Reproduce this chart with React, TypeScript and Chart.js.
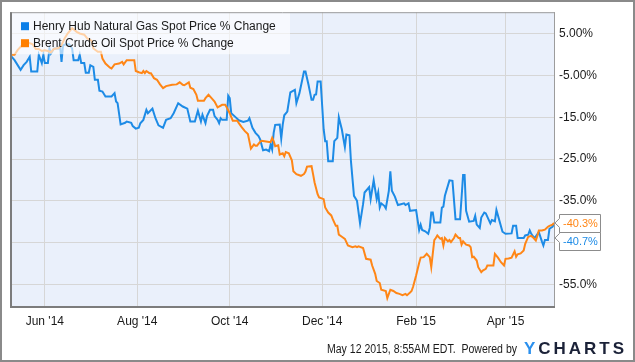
import { useEffect, useRef } from "react";
import { Chart, registerables } from "chart.js";

Chart.register(...registerables);

// ---- Data (x = days since 1 Jun 2014) ----
const seriesNames = [
  "Henry Hub Natural Gas Spot Price % Change",
  "Brent Crude Oil Spot Price % Change",
];

const gasDays = [
  -23, -20, -16, -14, -12, -10, -9, -5, -4, -2,
  -1, 0, 2, 3, 4, 6, 9, 10, 11, 12,
  14, 16, 18, 19, 22, 23, 24, 26, 27, 29,
  30, 32, 33, 35, 36, 38, 40, 44, 46, 47,
  48, 50, 53, 54, 57, 58, 60, 62, 63, 65,
  67, 68, 71, 73, 75, 78, 80, 83, 85, 88,
  91, 94, 96, 99, 101, 103, 104, 106, 107, 109,
  111, 112, 114, 115, 116, 117, 120, 121, 122, 123,
  126, 128, 131, 134, 135, 137, 139, 141, 142, 144,
  146, 148, 149, 150, 151, 152, 155, 156, 157, 158,
  160, 162, 165, 166, 168, 171, 172, 174, 176, 177,
  178, 179, 180, 182, 184, 185, 186, 187, 190, 191,
  193, 194, 196, 198, 199, 201, 202, 204, 206, 208,
  210, 211, 214, 215, 217, 219, 220, 221, 222, 224,
  225, 227, 228, 229, 231, 233, 235, 237, 238, 240,
  241, 245, 247, 248, 249, 251, 253, 254, 255, 256,
  257, 261, 262, 263, 264, 267, 269, 271, 274, 275,
  276, 277, 278, 280, 283, 284, 285, 287, 288, 290,
  291, 294, 295, 297, 298, 300, 302, 304, 308, 309,
  311, 312, 316, 317, 319, 320, 321, 323, 324, 326,
  328, 329, 330, 332, 333, 335, 336,
];

const gasChange = [
  0, -1.3, -3.6, -2.5, -1.7, -0.5, -4.0, -4.0, 0, -2,
  0, -2, -2, 1.5, 0.3, 1.5, 1.5, 2.3, -1.7, 2.3,
  2.5, 2.5, 1.5, -1.3, -1.3, 0, -2, -2, -4.3, -4.3,
  -2.5, -2.9, -6.0, -6.0, -8.6, -8.8, -10, -10, -9.2, -11.2,
  -11.6, -16.7, -16.3, -16, -16.3, -17.1, -17.7, -17.5, -16.4, -15.6,
  -13.2, -14, -12.9, -15.2, -16.9, -17.5, -15.6, -15.2, -14, -11.6,
  -12.4, -12.9, -16, -16, -13.4, -16, -14.4, -16.4, -14.7, -13.2,
  -13.2, -14.7, -15.6, -16.4, -15.2, -15.6, -15.6, -9.8, -10.4, -14,
  -15, -15.7, -16.1, -15.8, -15.2, -17.5, -18.7, -19.5, -20.2, -22.9,
  -22.7, -23.1, -21.5, -22.7, -18.7, -16.8, -16.7, -20.1, -16.7, -14.5,
  -13.6, -9.0, -8.4, -11.6, -9.2, -4.0, -4.0, -7.2, -10.8, -10.8,
  -9.6, -9.5, -6.4, -6.4, -17.9, -20.7, -20.7, -25.5, -25.5, -20.7,
  -19.9, -15, -17.9, -22.1, -19.1, -19.3, -25.5, -33.8, -35, -40.4,
  -35.8, -33, -31.7, -34.6, -30.1, -34.6, -33, -36.6, -35.6, -36.2,
  -36.8, -32.6, -27.9, -32.6, -34, -36, -35.8, -35.6, -36, -35.6,
  -37.4, -37.2, -42, -40.7, -42, -42.3, -42.9, -41.5, -37.8, -37.8,
  -40.2, -40.2, -36.6, -36.4, -33.8, -30.1, -30.2, -39.4, -39.4, -34.2,
  -28.8, -28.8, -37.4, -40, -39.8, -38.6, -40.7, -41.5, -39, -37.8,
  -38, -40.4, -39.6, -39.9, -37.2, -39.8, -42.4, -42.9, -42.8, -41,
  -41, -43.9, -43.9, -43.3, -43.1, -42.1, -42.9, -43.9, -43.5, -42.5,
  -44.7, -45.7, -44.4, -44.4, -41.7, -41.2, -40.7,
];

const brentDays = [
  -23, -20, -18, -15, -11, -8, -6, -4, -2, 0,
  2, 4, 6, 9, 11, 13, 15, 18, 21, 23,
  26, 28, 31, 32, 35, 37, 38, 40, 43, 44,
  46, 49, 51, 52, 54, 56, 59, 60, 62, 64,
  65, 66, 67, 69, 70, 72, 74, 76, 78, 80,
  84, 87, 89, 91, 92, 95, 96, 98, 100, 101,
  105, 106, 108, 110, 112, 114, 117, 119, 120, 122,
  124, 127, 128, 130, 132, 134, 136, 138, 139, 140,
  142, 143, 145, 148, 149, 150, 151, 152, 154, 155,
  157, 158, 159, 161, 163, 164, 166, 169, 171, 172,
  173, 176, 177, 178, 180, 181, 184, 185, 187, 189,
  190, 192, 193, 194, 196, 198, 200, 203, 205, 206,
  207, 210, 212, 215, 216, 218, 219, 221, 222, 225,
  226, 228, 230, 232, 234, 236, 238, 239, 241, 242,
  243, 245, 247, 248, 250, 252, 254, 255, 257, 258,
  259, 261, 262, 263, 264, 266, 267, 268, 270, 271,
  273, 274, 275, 276, 278, 280, 281, 282, 283, 285,
  286, 288, 289, 291, 292, 296, 297, 299, 301, 303,
  304, 306, 308, 310, 311, 312, 314, 316, 317, 319,
  321, 322, 324, 325, 326, 328, 330, 332, 333, 335,
  336,
];

const brentChange = [
  0, 0, 1.1, 2.3, 2.9, 2.5, 1.4, 1.4, 0.9, 1.1,
  0.9, 0.6, 1.4, 1.6, 2.3, 3.9, 5.1, 6.4, 5.5, 5.1,
  4.8, 3.9, 3.3, 1.5, 0.7, 0.7, -0.9, -2.1, -3.1, -3.3,
  -2.3, -2.1, -1.7, -2.3, -1.3, -1.3, -1.3, -3.9, -4.2, -4.4,
  -3.9, -4.4, -3.9, -4.4, -4.4, -5.6, -6.0, -7.1, -8.0, -7.5,
  -7.2, -7.1, -6.6, -7.2, -7.3, -6.6, -7.9, -8.2, -9.6, -11,
  -11, -10.4, -9.6, -10.4, -11.2, -12.6, -12, -12, -12.6, -14,
  -15.8, -15.8, -16.4, -17.4, -18.3, -19, -22.5, -21.5, -21.8, -21.8,
  -20.9, -20.6, -20.7, -20.9, -20.9, -19.9, -20.7, -21.9, -21.7, -23.9,
  -23.6, -24.3, -23.3, -23.6, -25.3, -27.9, -28.6, -29, -28.6, -28.0,
  -26.8, -26.7, -28.6, -30.6, -33.4, -34.2, -34.6, -36.6, -37.8, -38.5,
  -39.4, -41, -41, -43.1, -43.6, -44.1, -45.7, -46.1, -45.9, -46.1,
  -45.9, -46.3, -48.9, -49.1, -50.5, -52.5, -54.2, -54.7, -56.3, -56.6,
  -58.3, -56.3, -56.6, -57.1, -57.3, -57.6, -57.3, -57.6, -57.0, -56.6,
  -55.6, -52.9, -49.9, -48.6, -48.5, -47.7, -48.5, -50.9, -44.4, -43.9,
  -43.3, -44.1, -43.9, -45.7, -43.9, -44.7, -44.4, -44.9, -43.9, -43.1,
  -43.9, -43.9, -45.5, -44.7, -45.5, -45.7, -46.1, -48.5, -48.4, -49.3,
  -50.9, -52.1, -51.7, -51.3, -50.5, -50.5, -47.7, -48.6, -49.7, -50.5,
  -48.9, -48.8, -48.6, -47.1, -48.4, -47.8, -47.6, -46.9, -45.3, -43.6,
  -43.4, -43.7, -44.5, -43.4, -42.1, -42.1, -41.9, -41.2, -41, -40.7,
  -40.3,
];

const monthTickDays = [0, 61, 122, 183, 245, 304];
const monthTickLabels = ["Jun '14", "Aug '14", "Oct '14", "Dec '14", "Feb '15", "Apr '15"];
const yTickValues = [5, -5, -15, -25, -35, -45, -55];
const yTickLabels = ["5.00%", "-5.00%", "-15.0%", "-25.0%", "-35.0%", "", "-55.0%"];
const footerText = "May 12 2015, 8:55AM EDT.  Powered by";
const logoText = "YCHARTS";

const FONT = "'Liberation Sans', Arial, Helvetica, sans-serif";
const GAS_COLOR = "#1d8be6";
const BRENT_COLOR = "#ff8616";

export default function App() {
  const ref = useRef<HTMLCanvasElement | null>(null);

  useEffect(() => {
    document.body.style.margin = "0";
    const canvas = ref.current;
    if (!canvas) return;

    const chromePlugin = {
      id: "ychartsChrome",
      beforeDraw(chart: any) {
        const { ctx, chartArea: a, width, height } = chart;
        ctx.save();
        ctx.fillStyle = "#ffffff";
        ctx.fillRect(0, 0, width, height);
        ctx.fillStyle = "#eaf0fb";
        ctx.fillRect(a.left, a.top, a.right - a.left, a.bottom - a.top);
        ctx.restore();
      },
      afterDatasetsDraw(chart: any) {
        const { ctx, chartArea: a } = chart;
        ctx.save();
        // legend box
        ctx.fillStyle = "rgba(255,255,255,0.62)";
        ctx.fillRect(a.left, a.top, 280, 42);
        ctx.font = `12px ${FONT}`;
        ctx.textBaseline = "middle";
        const colors = ["#0c7fe8", "#ff7f00"];
        seriesNames.forEach((name, i) => {
          const cy = a.top + 14 + i * 17;
          ctx.fillStyle = colors[i];
          ctx.fillRect(a.left + 11, cy - 4, 8, 8);
          ctx.fillStyle = "#1a1a1a";
          ctx.fillText(name, a.left + 23, cy + 0.5);
        });
        // plot frame
        ctx.strokeStyle = "#9c9c9c";
        ctx.lineWidth = 1;
        ctx.beginPath();
        ctx.moveTo(a.left, a.top + 0.5);
        ctx.lineTo(a.right + 1, a.top + 0.5);
        ctx.moveTo(a.right + 0.5, a.top);
        ctx.lineTo(a.right + 0.5, a.bottom);
        ctx.stroke();
        ctx.strokeStyle = "#7c7c7c";
        ctx.lineWidth = 2;
        ctx.beginPath();
        ctx.moveTo(a.left + 1, a.top);
        ctx.lineTo(a.left + 1, a.bottom + 1);
        ctx.lineTo(a.right + 1, a.bottom + 1);
        ctx.stroke();
        ctx.restore();
      },
      afterDraw(chart: any) {
        const { ctx, chartArea: a, width, height } = chart;
        const ys = chart.scales.y;
        ctx.save();
        // last value labels
        const gasLast = gasChange[gasChange.length - 1];
        const brentLast = brentChange[brentChange.length - 1];
        const items = [
          { text: gasLast.toFixed(1) + "%", color: GAS_COLOR, y: ys.getPixelForValue(gasLast) },
          { text: brentLast.toFixed(1) + "%", color: BRENT_COLOR, y: ys.getPixelForValue(brentLast) },
        ].sort((p, q) => p.y - q.y);
        const h = 18;
        let prevBottom = -Infinity;
        ctx.font = `11px ${FONT}`;
        ctx.textBaseline = "middle";
        for (const it of items) {
          const top = Math.max(it.y - h / 2, prevBottom);
          const bottom = top + h;
          prevBottom = bottom;
          const tip = Math.min(Math.max(it.y, top + 6), bottom - 6);
          const left = a.right + 5.5;
          const right = left + 41;
          ctx.beginPath();
          ctx.moveTo(left, Math.round(top) + 0.5);
          ctx.lineTo(right, Math.round(top) + 0.5);
          ctx.lineTo(right, Math.round(bottom) + 0.5);
          ctx.lineTo(left, Math.round(bottom) + 0.5);
          ctx.lineTo(left, tip + 4.5);
          ctx.lineTo(left - 4.5, tip);
          ctx.lineTo(left, tip - 4.5);
          ctx.closePath();
          ctx.fillStyle = "#ffffff";
          ctx.fill();
          ctx.strokeStyle = "#8c8c8c";
          ctx.lineWidth = 1;
          ctx.stroke();
          ctx.fillStyle = it.color;
          ctx.fillText(it.text, left + 3.5, (top + bottom) / 2 + 1);
        }
        // footer
        ctx.font = `12px ${FONT}`;
        ctx.textBaseline = "alphabetic";
        ctx.fillStyle = "#1a1a1a";
        ctx.fillText(footerText, 327, 352.5, 190);
        // logo
        ctx.font = `bold 17px ${FONT}`;
        const letters = logoText.split("");
        const widths = letters.map((c) => ctx.measureText(c).width);
        const total = widths.reduce((s, w) => s + w, 0);
        const logoLeft = 524;
        const logoWidth = 100;
        const gap = (logoWidth - total) / (letters.length - 1);
        let lx = logoLeft;
        letters.forEach((c, i) => {
          ctx.fillStyle = i === 0 ? "#2b90ee" : "#1b2238";
          ctx.fillText(c, lx, 354);
          lx += widths[i] + gap;
        });
        // outer border
        ctx.strokeStyle = "#8a8a8a";
        ctx.lineWidth = 2;
        ctx.strokeRect(1, 1, width - 2, height - 2);
        ctx.restore();
      },
    };

    const chart = new Chart(canvas, {
      type: "line",
      data: {
        datasets: [
          {
            label: seriesNames[0],
            data: gasDays.map((d, i) => ({ x: d, y: gasChange[i] })),
            borderColor: GAS_COLOR,
            backgroundColor: GAS_COLOR,
            borderWidth: 2,
            pointRadius: 0,
            tension: 0,
            order: 1,
          },
          {
            label: seriesNames[1],
            data: brentDays.map((d, i) => ({ x: d, y: brentChange[i] })),
            borderColor: BRENT_COLOR,
            backgroundColor: BRENT_COLOR,
            borderWidth: 2,
            pointRadius: 0,
            tension: 0,
            order: 0,
          },
        ],
      },
      options: {
        responsive: false,
        animation: false,
        events: [],
        layout: { padding: { left: 10, top: 10, right: 0, bottom: 0 } },
        plugins: { legend: { display: false }, tooltip: { enabled: false } },
        scales: {
          x: {
            type: "linear",
            min: -23,
            max: 336,
            afterBuildTicks: (scale: any) => {
              scale.ticks = monthTickDays.map((v) => ({ value: v }));
            },
            afterFit: (scale: any) => {
              scale.height = 56;
            },
            grid: { color: "#d6d6d6", lineWidth: 1, drawTicks: false },
            border: { display: false },
            ticks: {
              autoSkip: false,
              maxRotation: 0,
              padding: 8,
              color: "#1a1a1a",
              font: { family: FONT, size: 12 },
              callback: (_v: any, i: number) => monthTickLabels[i],
            },
          },
          y: {
            type: "linear",
            position: "right",
            min: -60.2,
            max: 10.2,
            afterBuildTicks: (scale: any) => {
              scale.ticks = yTickValues.map((v) => ({ value: v }));
            },
            afterFit: (scale: any) => {
              scale.width = 81;
            },
            grid: { color: "#d6d6d6", lineWidth: 1, drawTicks: false },
            border: { display: false },
            ticks: {
              autoSkip: false,
              padding: 5,
              color: "#1a1a1a",
              font: { family: FONT, size: 12 },
              callback: (_v: any, i: number) => yTickLabels[i],
            },
          },
        },
      },
      plugins: [chromePlugin],
    });

    return () => chart.destroy();
  }, []);

  return (
    <canvas
      ref={ref}
      width={635}
      height={362}
      style={{ display: "block", width: 635, height: 362 }}
    />
  );
}
